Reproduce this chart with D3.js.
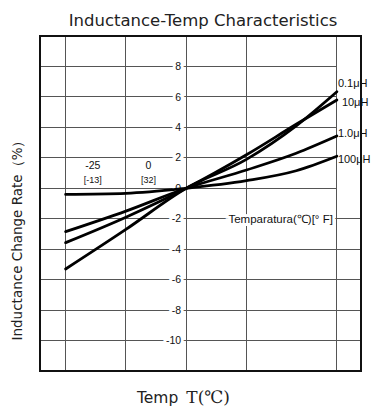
<!DOCTYPE html>
<meta charset="utf-8">
<style>
body { margin: 0; background: #fff; }
.grid line { stroke: #555; stroke-width: 1; shape-rendering: crispEdges; }
.tick-label { font: 10.5px "Liberation Sans", Arial, sans-serif; fill: #111; }
.narrow { font-family: "Liberation Sans Narrow", "Liberation Sans", sans-serif; fill: #111; }
.series { fill: none; stroke: #000; stroke-width: 2.8; stroke-linecap: round; }
</style>
<body>
<script src="https://cdn.jsdelivr.net/npm/d3@7"></script>
<script>
// temperatures (degC) where the curves were read
var temps = [-55, -15, 25, 65, 98, 125];
var series = [
  {name: "0.1\u03bcH", values: [-5.3, -2.7, 0, 1.9, 4.1, 6.34]},
  {name: "10\u03bcH",  values: [-3.57, -1.9, 0, 2.2, 4.2, 5.8]},
  {name: "1.0\u03bcH", values: [-2.85, -1.5, 0, 1.2, 2.3, 3.43]},
  {name: "100\u03bcH", values: [-0.4, -0.33, 0, 0.5, 1.15, 2.1]}
];
var gridTemps = [-55, -15, 25, 65, 125];
var yTicks = [8, 6, 4, 2, 0, -2, -4, -6, -8, -10];
var tempLabels = [{c: "-25", f: "[-13]"}, {c: "0", f: "[32]"}];

var margin = {top: 36, right: 12, bottom: 43, left: 40},
    width = 373 - margin.left - margin.right,
    height = 414 - margin.top - margin.bottom;

var x = d3.scaleLinear().domain([-72, 141]).range([0, width]);
var y = d3.scaleLinear().domain([-12, 10]).range([height, 0]);

var root = d3.select("body").append("svg")
    .attr("width", 373)
    .attr("height", 414);

root.append("text")
    .attr("x", 203)
    .attr("y", 26)
    .attr("text-anchor", "middle")
    .style("font", "16.5px 'DejaVu Sans', sans-serif")
    .style("fill", "#222")
    .text("Inductance-Temp Characteristics");

root.append("text")
    .attr("transform", "translate(22," + (margin.top + 201) + ") rotate(-90)")
    .attr("text-anchor", "middle")
    .style("font", "13.5px 'DejaVu Sans', sans-serif")
    .style("fill", "#222")
    .text("Inductance Change Rate\uff08%\uff09");

var xl = root.append("text")
    .attr("x", 137)
    .attr("y", 403)
    .style("fill", "#222");
xl.append("tspan").style("font", "15.5px 'DejaVu Sans', sans-serif").text("Temp");
xl.append("tspan").attr("dx", 8).style("font", "17px 'DejaVu Serif', serif").text("T(\u2103)");

var svg = root.append("g")
    .attr("transform", "translate(" + margin.left + "," + margin.top + ")");

var grid = svg.append("g").attr("class", "grid");

grid.selectAll(".v")
    .data(gridTemps)
  .enter().append("line")
    .attr("x1", function(d) { return x(d); })
    .attr("x2", function(d) { return x(d); })
    .attr("y1", 0)
    .attr("y2", height);

// lines at 0 and above stop at the last grid line, leaving room for the labels
grid.selectAll(".h")
    .data(yTicks)
  .enter().append("line")
    .attr("x1", 0)
    .attr("x2", function(d) { return d >= 0 ? x(125) : width; })
    .attr("y1", function(d) { return y(d); })
    .attr("y2", function(d) { return y(d); });

svg.selectAll(".ylab")
    .data(yTicks)
  .enter().append("text")
    .attr("class", "tick-label")
    .attr("x", x(25) - 5)
    .attr("y", function(d) { return y(d); })
    .attr("dy", "0.35em")
    .attr("text-anchor", "end")
    .style("stroke", "#fff")
    .style("stroke-width", 6)
    .style("paint-order", "stroke")
    .text(function(d) { return d; });

var tl = svg.selectAll(".tlab")
    .data(tempLabels)
  .enter().append("g")
    .attr("transform", function(d, i) {
      return "translate(" + (i == 0 ? x(-37) : x(0)) + "," + y(0) + ")";
    });
tl.append("text")
    .attr("class", "narrow")
    .attr("y", -19)
    .attr("text-anchor", "middle")
    .style("font-size", "10.5px")
    .text(function(d) { return d.c; });
tl.append("text")
    .attr("class", "narrow")
    .attr("y", -5)
    .attr("text-anchor", "middle")
    .style("font-size", "9px")
    .text(function(d) { return d.f; });

svg.append("text")
    .attr("class", "narrow")
    .attr("x", x(125) - 4)
    .attr("y", y(-2))
    .attr("dy", "0.35em")
    .attr("text-anchor", "end")
    .style("font-size", "11.5px")
    .style("stroke", "#fff")
    .style("stroke-width", 6)
    .style("paint-order", "stroke")
    .text("Temparatura(\u2103)[\u00b0  F]");

var line = d3.line()
    .x(function(d, i) { return x(temps[i]); })
    .y(function(d) { return y(d); })
    .curve(d3.curveMonotoneX);

svg.selectAll(".series")
    .data(series)
  .enter().append("path")
    .attr("class", "series")
    .attr("d", function(d) { return line(d.values); });

var nameOffsets = [-9, 2, -3, 3];
svg.selectAll(".name")
    .data(series)
  .enter().append("text")
    .attr("class", "narrow")
    .attr("x", function(d, i) { return x(125) + (i == 1 ? 5 : 1); })
    .attr("y", function(d, i) { return y(d.values[d.values.length - 1]) + nameOffsets[i]; })
    .attr("dy", "0.35em")
    .style("font-size", "11px")
    .text(function(d) { return d.name; });

svg.append("rect")
    .attr("width", width)
    .attr("height", height)
    .style("fill", "none")
    .style("stroke", "#111")
    .style("stroke-width", 2);
</script>
</body>
</html>
